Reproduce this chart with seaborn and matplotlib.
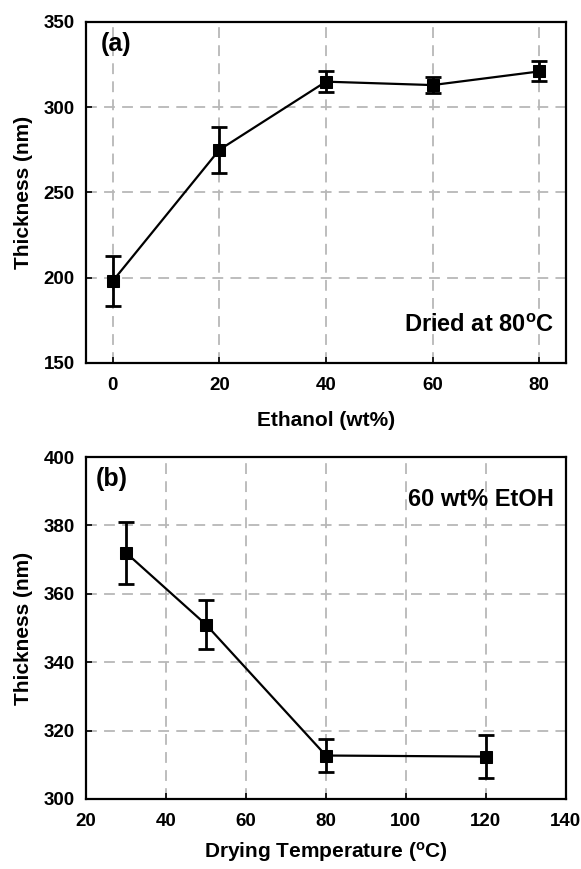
import matplotlib
matplotlib.use("Agg")
import matplotlib.pyplot as plt
import seaborn as sns
import pandas as pd

# Panel (a)
ethanol = [0, 20, 40, 60, 80]
thick_a = [198, 275, 315, 313, 321]
err_a = [14.5, 13.5, 6.2, 4.9, 5.9]

# Panel (b)
temp = [30, 50, 80, 120]
thick_b = [372, 351, 312.7, 312.4]
err_b = [9.0, 7.1, 4.7, 6.2]

sns.set_theme(style="ticks")
plt.rcParams['font.family'] = ['Liberation Sans', 'DejaVu Sans']
plt.rcParams['font.weight'] = 'bold'
plt.rcParams['text.color'] = 'black'
plt.rcParams['axes.labelcolor'] = 'black'
plt.rcParams['xtick.color'] = 'black'
plt.rcParams['ytick.color'] = 'black'
plt.rcParams['mathtext.fontset'] = 'custom'
plt.rcParams['mathtext.rm'] = 'Liberation Sans:bold'
plt.rcParams['mathtext.bf'] = 'Liberation Sans:bold'
plt.rcParams['mathtext.it'] = 'Liberation Sans:bold'

fig = plt.figure(figsize=(5.81, 8.69), dpi=100)
ax1 = fig.add_axes([0.148, 0.5823, 0.826, 0.3924])
ax2 = fig.add_axes([0.148, 0.0806, 0.826, 0.3935])

df_a = pd.DataFrame({"x": ethanol, "y": thick_a})
df_b = pd.DataFrame({"x": temp, "y": thick_b})

TICK = 13.5
LAB = 15
ANN = 17

def draw(ax, df, err):
    ax.set_axisbelow(True)
    ax.grid(True, color='#b8b8b8', linestyle=(0, (6, 4)), linewidth=1.3)
    sns.lineplot(data=df, x="x", y="y", ax=ax, color='black', linewidth=1.6,
                 marker='s', markersize=8.5, markeredgecolor='black', zorder=3)
    ax.errorbar(df["x"], df["y"], yerr=err, fmt='none', ecolor='black',
                elinewidth=2, capsize=5.5, capthick=2, zorder=4)
    for s in ax.spines.values():
        s.set_linewidth(1.6)
        s.set_color('black')
    ax.tick_params(direction='in', length=4, width=1.2, labelsize=TICK, colors='black')
    ax.tick_params(axis='y', pad=8)

draw(ax1, df_a, err_a)
ax1.set_xlim(-5, 85)
ax1.set_ylim(150, 350)
ax1.set_xticks(ethanol)
ax1.set_yticks([150, 200, 250, 300, 350])
ax1.set_xticklabels([str(v) for v in ethanol], fontweight='bold')
ax1.set_yticklabels(['150', '200', '250', '300', '350'], fontweight='bold')
ax1.tick_params(axis='x', pad=10)
ax1.set_xlabel("Ethanol (wt%)", fontsize=LAB, fontweight='bold', labelpad=12)
ax1.set_ylabel("Thickness (nm)", fontsize=LAB, fontweight='bold', labelpad=8)
ax1.text(0.03, 0.935, "(a)", transform=ax1.transAxes, fontsize=18, fontweight='bold', va='center', ha='left')
ax1.text(0.975, 0.11, r"Dried at 80$^{\mathbf{o}}$C", transform=ax1.transAxes, fontsize=ANN,
         fontweight='bold', va='center', ha='right')

draw(ax2, df_b, err_b)
ax2.set_xlim(20, 140)
ax2.set_ylim(300, 400)
ax2.set_xticks([20, 40, 60, 80, 100, 120, 140])
ax2.set_yticks([300, 320, 340, 360, 380, 400])
ax2.set_xticklabels(['20', '40', '60', '80', '100', '120', '140'], fontweight='bold')
ax2.set_yticklabels(['300', '320', '340', '360', '380', '400'], fontweight='bold')
ax2.tick_params(axis='x', pad=10)
ax2.set_xlabel(r"Drying Temperature ($^{\mathbf{o}}$C)", fontsize=LAB, fontweight='bold', labelpad=7)
ax2.set_ylabel("Thickness (nm)", fontsize=LAB, fontweight='bold', labelpad=8)
ax2.text(0.02, 0.935, "(b)", transform=ax2.transAxes, fontsize=18, fontweight='bold', va='center', ha='left')
ax2.text(0.975, 0.875, "60 wt% EtOH", transform=ax2.transAxes, fontsize=ANN,
         fontweight='bold', va='center', ha='right')

fig.savefig("out.png", dpi=100, facecolor='white')
